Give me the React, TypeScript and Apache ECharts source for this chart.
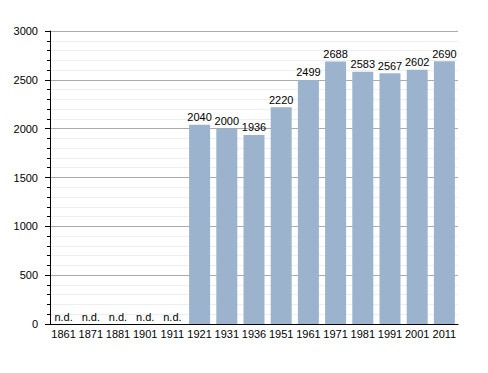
import React, { useEffect, useRef } from "react";
import * as echarts from "echarts";

const years = ["1861", "1871", "1881", "1901", "1911", "1921", "1931", "1936", "1951", "1961", "1971", "1981", "1991", "2001", "2011"];
const population: (number | null)[] = [null, null, null, null, null, 2040, 2000, 1936, 2220, 2499, 2688, 2583, 2567, 2602, 2690];
const yTicks = { min: 0, max: 3000, interval: 500 };

export default function App() {
  const ref = useRef<HTMLDivElement>(null);
  useEffect(() => {
    if (!ref.current) return;
    const chart = echarts.init(ref.current, null, { renderer: "svg" });
    const font = "Liberation Sans, Arial, sans-serif";
    chart.setOption({
      animation: false,
      grid: { left: 50, right: 30, top: 31, bottom: 49 },
      xAxis: {
        type: "category",
        data: years,
        axisLine: { lineStyle: { color: "#000", width: 1 } },
        axisTick: { show: false },
        axisLabel: { color: "#000", fontSize: 11, fontFamily: font, margin: 4, interval: 0 },
      },
      yAxis: {
        type: "value",
        min: yTicks.min,
        max: yTicks.max,
        interval: yTicks.interval,
        axisLine: { show: true, lineStyle: { color: "#000", width: 1 } },
        axisTick: { show: true, length: 5, lineStyle: { color: "#000" } },
        minorTick: { show: true, splitNumber: 5, length: 3, lineStyle: { color: "#000" } },
        splitLine: { show: true, lineStyle: { color: "#aaa", width: 1 } },
        minorSplitLine: { show: true, lineStyle: { color: "#eeeeee", width: 1 } },
        axisLabel: { color: "#000", fontSize: 11, fontFamily: font, margin: 12, formatter: (v: number) => String(v) },
      },
      series: [
        {
          type: "bar",
          data: population,
          barWidth: 21,
          itemStyle: { color: "#9cb3ce" },
          label: { show: true, position: "top", distance: 2, color: "#000", fontSize: 11, fontFamily: font },
          z: 3,
        },
        {
          type: "bar",
          data: population.map((v) => (v === null ? 0 : null)),
          barWidth: 21,
          barGap: "-100%",
          itemStyle: { color: "#9cb3ce" },
          label: { show: true, position: "top", distance: 2, color: "#000", fontSize: 11, fontFamily: font, formatter: () => "n.d." },
          z: 3,
        },
      ],
    });
    return () => chart.dispose();
  }, []);
  return <div ref={ref} style={{ width: 488, height: 373, position: "absolute", left: 0, top: 0, background: "#fff" }} />;
}
